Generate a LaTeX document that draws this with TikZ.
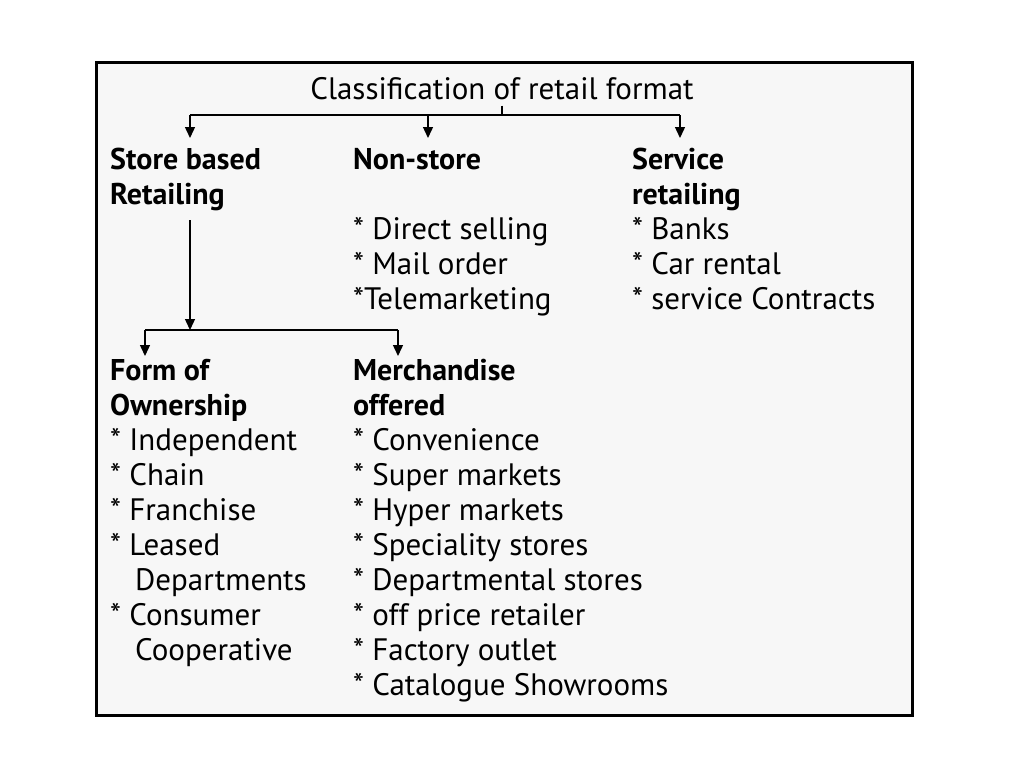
\documentclass[tikz,border=0pt]{standalone}
\usepackage{fontspec}
\setmainfont{PT Sans}
\usetikzlibrary{arrows.meta}
\begin{document}
\begin{tikzpicture}[x=1pt,y=-1pt,
  t/.style={anchor=west,inner sep=0pt,text height=21pt,text depth=6pt,font=\fontsize{31}{34}\selectfont},
  b/.style={t,font=\fontsize{30}{34}\selectfont\bfseries},
  ar/.style={-{Triangle[length=11pt,width=10pt]},line width=1.4pt}]
\useasboundingbox (0,0) rectangle (1024,768);
\draw[line width=3pt,fill=black!3] (96,62) rectangle (912,715);
\node[t,anchor=center] (title) at (502,92) {Classification of retail format};
\coordinate (j) at (502,115);
\coordinate (l1) at (190,115);
\coordinate (r1) at (680,115);
\coordinate (a1) at (190,138);
\coordinate (a2) at (428,138);
\coordinate (a3) at (680,138);
\draw[line width=1.4pt] (title.south) -- (j);
\draw[line width=1.4pt] (l1) -- (r1);
\draw[ar] (l1) -- (a1);
\draw[ar] (j-|a2) -- (a2);
\draw[ar] (r1) -- (a3);
\node[b] (sb1) at (110,162) {Store based};
\node[b] (sb2) at (110,197) {Retailing};
\node[b] (ns) at (353,162) {Non-store};
\node[b] (sr1) at (632,162) {Service};
\node[b] (sr2) at (632,197) {retailing};
\node[t] at (353,232) {* Direct selling};
\node[t] at (353,267) {* Mail order};
\node[t] at (353,302) {*Telemarketing};
\node[t] at (632,232) {* Banks};
\node[t] at (632,267) {* Car rental};
\node[t] at (632,302) {* service Contracts};
\coordinate (v1) at (190,220);
\coordinate (v2) at (190,330);
\coordinate (h1) at (145,330);
\coordinate (h2) at (398,330);
\draw[ar] (v1) -- (v2);
\draw[line width=1.4pt] (h1) -- (h2);
\draw[ar] (h1) -- (145,356);
\draw[ar] (h2) -- (398,356);
\node[b] at (110,373) {Form of};
\node[b] at (110,408) {Ownership};
\node[t] at (110,443) {* Independent};
\node[t] at (110,478) {* Chain};
\node[t] at (110,513) {* Franchise};
\node[t] at (110,548) {* Leased};
\node[t] at (135,583) {Departments};
\node[t] at (110,618) {* Consumer};
\node[t] at (135,653) {Cooperative};
\node[b] at (353,373) {Merchandise};
\node[b] at (353,408) {offered};
\node[t] at (353,443) {* Convenience};
\node[t] at (353,478) {* Super markets};
\node[t] at (353,513) {* Hyper markets};
\node[t] at (353,548) {* Speciality stores};
\node[t] at (353,583) {* Departmental stores};
\node[t] at (353,618) {* off price retailer};
\node[t] at (353,653) {* Factory outlet};
\node[t] at (353,688) {* Catalogue Showrooms};
\end{tikzpicture}
\end{document}
